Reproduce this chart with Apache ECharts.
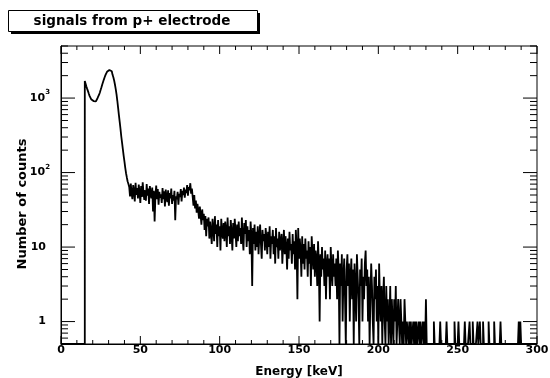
<!DOCTYPE html>
<html>
<head>
<meta charset="utf-8">
<script src="https://cdn.jsdelivr.net/npm/echarts@6/dist/echarts.min.js"></script>
<style>
  html, body { margin: 0; padding: 0; background: #fff; }
  #chart { width: 550px; height: 378px; }
</style>
</head>
<body>
<div id="chart"></div>
<script>
// 0.5 keV bins, counts per bin; bins not listed are empty
const BIN_WIDTH = 0.5
const PEAK_START = 15   // keV, first bin above threshold
const countsPeak = [ // 15.0 - 42.5 keV
  1700, 1560, 1430, 1330, 1240, 1150, 1070, 1010, 965, 935,
  912, 900, 898, 905, 925, 955, 995, 1045, 1110, 1190,
  1290, 1400, 1520, 1640, 1770, 1900, 2030, 2150, 2250, 2330,
  2380, 2390, 2360, 2290, 2180, 2050, 1900, 1720, 1520, 1320,
  1120, 920, 740, 590, 480, 385, 305, 250, 205, 168,
  140, 116, 98, 86, 76, 70
]
const CONTINUUM_START = 43 // keV
const countsContinuum = [ // 43.0 - 229.5 keV
  64, 48, 71, 52, 44, 68, 57, 41, 73, 50, 62, 45, 69, 55, 39, 66, 47, 74, 53, 43,
  58, 42, 70, 49, 61, 38, 66, 52, 45, 63, 30, 57, 22, 48, 67, 44, 60, 37, 55, 46,
  51, 39, 62, 44, 56, 35, 59, 47, 40, 58, 36, 53, 45, 61, 38, 50, 42, 57, 23, 48,
  44, 55, 37, 52, 47, 60, 41, 57, 50, 63, 46, 59, 53, 68, 49, 64, 58, 72, 52, 61,
  47, 36, 50, 33, 42, 29, 38, 31, 24, 35, 27, 20, 32, 23, 28, 17, 26, 14, 24, 19,
  25, 13, 22, 16, 11, 24, 18, 12, 26, 15, 20, 10, 23, 14, 19, 9, 24, 16, 13, 21,
  12, 22, 17, 10, 25, 14, 19, 11, 23, 15, 9, 21, 13, 24, 16, 10, 20, 12, 22, 14,
  18, 11, 25, 13, 9, 21, 15, 23, 10, 19, 12, 17, 8, 22, 14, 3, 18, 11, 20, 9,
  16, 10, 19, 8, 14, 20, 11, 7, 17, 12, 15, 9, 18, 13, 8, 16, 10, 19, 7, 14,
  11, 17, 8, 14, 6, 18, 10, 13, 7, 16, 9, 12, 15, 6, 11, 17, 8, 14, 10, 5,
  13, 7, 16, 9, 11, 6, 15, 8, 12, 5, 17, 10, 2, 18, 7, 13, 9, 4, 14, 6,
  11, 5, 13, 7, 9, 4, 12, 6, 10, 3, 14, 8, 5, 11, 4, 9, 7, 3, 12, 6,
  1, 8, 4, 10, 5, 7, 3, 9, 2, 6, 8, 4, 7, 2, 10, 5, 3, 8, 4, 6,
  3, 7, 2, 9, 5, 0, 6, 3, 8, 1, 4, 7, 2, 0, 5, 8, 3, 6, 1, 4,
  7, 2, 5, 0, 6, 3, 1, 8, 4, 2, 0, 5, 3, 7, 1, 4, 2, 6, 9, 3,
  5, 1, 4, 0, 2, 6, 3, 1, 0, 4, 2, 5, 1, 3, 0, 6, 2, 1, 3, 0,
  2, 4, 1, 0, 3, 1, 2, 0, 1, 3, 0, 2, 1, 0, 2, 1, 3, 0, 1, 2,
  1, 0, 2, 1, 0, 1, 0, 2, 1, 0, 1, 1, 0, 1, 0, 1, 0, 0, 1, 0,
  1, 0, 1, 0, 0, 1, 0, 1, 0, 0, 1, 0, 1, 0
]
// 230 - 300 keV: isolated bins [energy keV, counts]
const tailHits = [
  [230, 2], [235, 1], [239, 1], [243, 1], [248, 1], [250.5, 1], [254.5, 1], [257.5, 1],
  [259.5, 1], [262.5, 1], [264, 1], [266, 1], [269.5, 1], [273, 1], [277, 1], [288.5, 1], [289.5, 1]
]

const X_MIN = 0, X_MAX = 300, X_STEP = 50, X_MINOR_STEP = 10
const Y_MIN = 0.5, Y_MAX = 5000
const yMajorValues = [1, 10, 100, 1000]
const yMajorLabels = ['{p|1}', '{p|10}', '{b|10}{s|2}', '{b|10}{s|3}']
const yMinorMantissa = [2, 3, 4, 5, 6, 7, 8, 9]
const yDecades = [0.1, 1, 10, 100, 1000]

// assemble the histogram
const nBins = Math.round((X_MAX - X_MIN) / BIN_WIDTH)
const counts = new Array(nBins).fill(0)
const binOf = e => Math.round((e - X_MIN) / BIN_WIDTH)
countsPeak.forEach((c, i) => { counts[binOf(PEAK_START) + i] = c })
countsContinuum.forEach((c, i) => { counts[binOf(CONTINUUM_START) + i] = c })
tailHits.forEach(([e, c]) => { counts[binOf(e)] = c })

// steps; empty bins go to the bottom of the frame as in ROOT
const stepData = counts.map((c, i) => [X_MIN + i * BIN_WIDTH, Math.max(c, Y_MIN)])
stepData.push([X_MAX, Math.max(counts[nBins - 1], Y_MIN)])

// ROOT style ticks, inside the frame on all four sides
const xTicks = []
for (let x = X_MIN; x <= X_MAX; x += X_MINOR_STEP) {
  xTicks.push([x, Y_MIN, x % X_STEP === 0 ? 8 : 4])
}
const yTicks = yMajorValues.map(v => [X_MIN, v, 14])
yDecades.forEach(d => {
  yMinorMantissa.forEach(m => {
    const v = m * d
    if (v > Y_MIN && v <= Y_MAX) yTicks.push([X_MIN, v, 7])
  })
})

const FONT = 'DejaVu Sans'
const labelRich = {
  p: { fontFamily: FONT, fontWeight: 'bold', fontSize: 11, color: '#000', padding: [0, 4, 0, 0] },
  b: { fontFamily: FONT, fontWeight: 'bold', fontSize: 11, color: '#000' },
  s: { fontFamily: FONT, fontWeight: 'bold', fontSize: 7, color: '#000', padding: [0, 0, 11, 0] }
}

const yLabelFormatter = v => {
  const i = yMajorValues.findIndex(m => Math.abs(Math.log10(v) - Math.log10(m)) < 1e-6)
  return i < 0 ? '' : yMajorLabels[i]
}

const tickStyle = { stroke: '#000', lineWidth: 1 }

const chart = echarts.init(document.getElementById('chart'), null, { renderer: 'canvas' })

chart.setOption({
  animation: false,
  backgroundColor: '#fff',
  graphic: [
    { type: 'rect', left: 11, top: 13, z: 1, shape: { width: 249, height: 21 }, style: { fill: '#000' } },
    { type: 'rect', left: 8, top: 10, z: 2, shape: { width: 249, height: 21 }, style: { fill: '#fff', stroke: '#000', lineWidth: 1 } },
    {
      type: 'text', x: 132, y: 21, z: 3,
      style: {
        text: 'signals from p+ electrode',
        fill: '#000',
        font: 'bold 13.5px "DejaVu Sans"',
        textAlign: 'center',
        textVerticalAlign: 'middle'
      }
    }
  ],
  grid: {
    left: 61,
    right: 13,
    top: 46,
    bottom: 34,
    outerBoundsMode: 'none',
    show: true,
    borderColor: '#000',
    borderWidth: 1
  },
  xAxis: {
    type: 'value',
    min: X_MIN,
    max: X_MAX,
    interval: X_STEP,
    name: 'Energy [keV]',
    nameLocation: 'middle',
    nameGap: 22,
    nameTextStyle: { fontFamily: FONT, fontWeight: 'bold', fontSize: 12, color: '#000' },
    axisLine: { lineStyle: { color: '#000', width: 1 } },
    axisTick: { show: false },
    axisLabel: { fontFamily: FONT, fontWeight: 'bold', fontSize: 11, color: '#000', margin: 1 },
    splitLine: { show: false }
  },
  yAxis: {
    type: 'log',
    logBase: 10,
    min: Y_MIN,
    max: Y_MAX,
    name: 'Number of counts',
    nameLocation: 'middle',
    nameRotate: 90,
    nameGap: 32,
    nameMoveOverlap: false,
    nameTextStyle: { fontFamily: FONT, fontWeight: 'bold', fontSize: 13, color: '#000', padding: [0, 18, 0, 0] },
    axisLine: { lineStyle: { color: '#000', width: 1 } },
    axisTick: { show: false },
    axisLabel: { formatter: yLabelFormatter, rich: labelRich, margin: 11 },
    splitLine: { show: false }
  },
  series: [
    {
      type: 'line',
      step: 'end',
      data: stepData,
      showSymbol: false,
      symbol: 'none',
      clip: true,
      lineStyle: { color: '#000', width: 1.8 }
    },
    {
      type: 'custom',
      data: xTicks,
      silent: true,
      renderItem: (params, api) => {
        const x = api.value(0), len = api.value(2)
        const pb = api.coord([x, Y_MIN])
        const pt = api.coord([x, Y_MAX])
        return {
          type: 'group',
          children: [
            { type: 'line', shape: { x1: pb[0], y1: pb[1], x2: pb[0], y2: pb[1] - len }, style: tickStyle },
            { type: 'line', shape: { x1: pt[0], y1: pt[1], x2: pt[0], y2: pt[1] + len }, style: tickStyle }
          ]
        }
      }
    },
    {
      type: 'custom',
      data: yTicks,
      silent: true,
      renderItem: (params, api) => {
        const v = api.value(1), len = api.value(2)
        const pl = api.coord([X_MIN, v])
        const pr = api.coord([X_MAX, v])
        return {
          type: 'group',
          children: [
            { type: 'line', shape: { x1: pl[0], y1: pl[1], x2: pl[0] + len, y2: pl[1] }, style: tickStyle },
            { type: 'line', shape: { x1: pr[0] - len, y1: pr[1], x2: pr[0], y2: pr[1] }, style: tickStyle }
          ]
        }
      }
    }
  ]
})
</script>
</body>
</html>
